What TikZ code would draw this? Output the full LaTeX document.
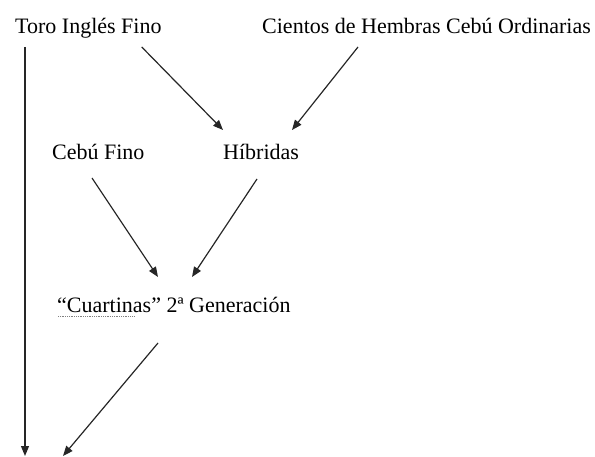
\documentclass[tikz,border=0pt]{standalone}
\usepackage{fontspec}
\setmainfont{Liberation Serif}
\usetikzlibrary{arrows.meta}
\tikzset{
  lbl/.style={inner sep=0pt, anchor=base west, font=\fontsize{22}{26}\selectfont},
  flow/.style={-{Triangle[length=10pt,width=8pt]}, line width=1.2pt, black!85},
}
\begin{document}
\begin{tikzpicture}[x=1pt,y=-1pt]
      \useasboundingbox (0,0) rectangle (595,457);
      \draw
        (15,34) node[lbl] (toro){Toro Inglés Fino}
        (262,34) node[lbl] (cientos){Cientos de Hembras Cebú Ordinarias}
        (52,160) node[lbl] (cebu){Cebú Fino}
        (223,160) node[lbl] (hibridas){Híbridas}
        (57,313) node[lbl] (cuartinas){“Cuartinas” 2ª Generación};
      \coordinate (finA) at (25,456);
      \coordinate (finB) at (63,456);
      \begin{scope}[flow]
        \draw ([xshift=10pt,yshift=-13pt]toro.base west) to (finA);
        \draw ([xshift=-20pt,yshift=-13pt]toro.base east) to ([yshift=30pt]hibridas.base west);
        \draw ([xshift=96pt,yshift=-13pt]cientos.base west) to ([xshift=69pt,yshift=30pt]hibridas.base west);
        \draw ([xshift=40pt,yshift=-18pt]cebu.base west) to ([xshift=101pt,yshift=36pt]cuartinas.base west);
        \draw ([xshift=34pt,yshift=-19pt]hibridas.base west) to ([xshift=135pt,yshift=36pt]cuartinas.base west);
        \draw ([xshift=101pt,yshift=-30pt]cuartinas.base west) to (finB);
      \end{scope}
      \draw[gray, densely dotted, line width=0.8pt]
        ([xshift=1pt,yshift=-3pt]cuartinas.base west) -- ++(76,0);
    \end{tikzpicture}
\end{document}
